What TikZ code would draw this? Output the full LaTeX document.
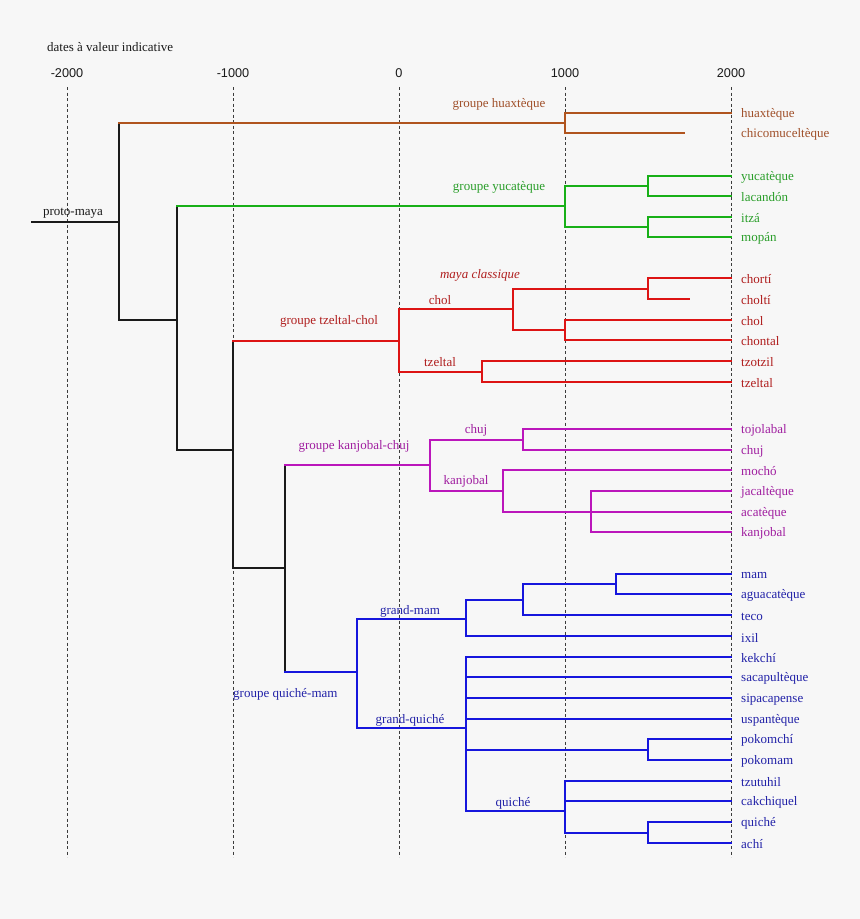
\documentclass[tikz,border=0pt]{standalone}
\usepackage{fontspec}
\setmainfont{Liberation Serif}
\newfontfamily\axisfont{Liberation Sans}
\usetikzlibrary{positioning}
\definecolor{treebg}{HTML}{F7F7F7}
\definecolor{treeink}{HTML}{1A1A1A}
\definecolor{treebrown}{HTML}{B0541E}
\definecolor{treegreen}{HTML}{18B018}
\definecolor{treered}{HTML}{DD1414}
\definecolor{treemagenta}{HTML}{BB16BB}
\definecolor{treeblue}{HTML}{1616DD}
\definecolor{txtbrown}{HTML}{A0502A}
\definecolor{txtgreen}{HTML}{2A9E2A}
\definecolor{txtred}{HTML}{B01E1E}
\definecolor{txtmagenta}{HTML}{A01EA0}
\definecolor{txtblue}{HTML}{2222A8}
\tikzset{
  branch/.style={line width=2pt, line cap=rect},
  dateline/.style={draw=treeink!85, line width=1pt, dash pattern=on 3pt off 2.5pt},
  yearlbl/.style={font=\axisfont\fontsize{12.7}{14}\selectfont, text=treeink},
  leaf/.style={anchor=west, inner sep=0pt, yshift=-1.5pt, font=\fontsize{13}{15}\selectfont},
  grplbl/.style={inner sep=0pt, font=\fontsize{13}{15}\selectfont}
}

\begin{document}
\begin{tikzpicture}[x=1pt,y=-1pt]
\fill[treebg] (0,0) rectangle (860,919);

% time axis
\node[grplbl, anchor=west, text=treeink] (axtitle) at (47,47) {dates à valeur indicative};
\foreach \yr/\x in {-2000/67,-1000/233,0/399,1000/565,2000/731} {
  \node[yearlbl] (yr\x) at (\x,73) {\yr};
  \draw[dateline] (\x,87) -- (\x,857);
}

% inner nodes of the tree
\coordinate (root) at (32,222);
\coordinate (pm) at (119,222);
\coordinate (n1) at (177,320);
\coordinate (n2) at (233,450);
\coordinate (n3) at (285,568);
\coordinate (hx) at (565,123);
\coordinate (yc) at (565,206);
\coordinate (y1) at (648,186);
\coordinate (y2) at (648,227);
\coordinate (tc) at (399,341);
\coordinate (c1) at (513,309);
\coordinate (c2) at (648,289);
\coordinate (c3) at (565,330);
\coordinate (t1) at (482,372);
\coordinate (kc) at (430,465);
\coordinate (k1) at (523,440);
\coordinate (k2) at (503,491);
\coordinate (k3) at (591,512);
\coordinate (qm) at (357,672);
\coordinate (m1) at (466,619);
\coordinate (m2) at (523,600);
\coordinate (m3) at (616,584);
\coordinate (g1) at (466,728);
\coordinate (g2) at (648,750);
\coordinate (g3) at (565,811);
\coordinate (g4) at (648,833);

% leaves
\foreach \nm/\y/\lbl in {huax/113/huaxtèque, chico/133/chicomuceltèque} {
  \coordinate (\nm) at (731,\y);
  \node[leaf, text=txtbrown] (l-\nm) at (741,\y) {\lbl};
}
\foreach \nm/\y/\lbl in {yuca/176/yucatèque, laca/196/lacandón, itza/217/itzá, mopa/237/mopán} {
  \coordinate (\nm) at (731,\y);
  \node[leaf, text=txtgreen] (l-\nm) at (741,\y) {\lbl};
}
\foreach \nm/\y/\lbl in {chorti/278/chortí, cholti/299/choltí, chol/320/chol, chon/340/chontal, tzot/361/tzotzil, tzel/382/tzeltal} {
  \coordinate (\nm) at (731,\y);
  \node[leaf, text=txtred] (l-\nm) at (741,\y) {\lbl};
}
\foreach \nm/\y/\lbl in {tojo/429/tojolabal, chuj/450/chuj, moch/470/mochó, jaca/491/jacaltèque, acat/512/acatèque, kanj/532/kanjobal} {
  \coordinate (\nm) at (731,\y);
  \node[leaf, text=txtmagenta] (l-\nm) at (741,\y) {\lbl};
}
\foreach \nm/\y/\lbl in {mam/574/mam, agua/594/aguacatèque, teco/615/teco, ixil/636/ixil, kekc/657/kekchí, saca/677/sacapultèque, sipa/698/sipacapense, uspa/719/uspantèque, pkch/739/pokomchí, pkmm/760/pokomam, tzut/781/tzutuhil, cakc/801/cakchiquel, quic/822/quiché, achi/843/achí} {
  \coordinate (\nm) at (731,\y);
  \node[leaf, text=txtblue] (l-\nm) at (741,\y) {\lbl};
}
\coordinate (chico) at (684,133);
\coordinate (cholti) at (689,299);

% black spine
\draw[branch, treeink] (root) -- (pm);
\draw[branch, treeink] (pm |- hx) |- (n1);
\draw[branch, treeink] (n1 |- yc) |- (n2);
\draw[branch, treeink] (n2 |- tc) |- (n3);
\draw[branch, treeink] (n3 |- kc) -- (n3 |- qm);
\node[grplbl, text=treeink] (proto) at (73,213) {proto-maya};

% groupe huaxteque
\draw[branch, treebrown] (pm |- hx) -- (hx);
\draw[branch, treebrown] (hx) |- (huax);
\draw[branch, treebrown] (hx) |- (chico);
\node[grplbl, text=txtbrown] (g-hx) at (499,104) {groupe huaxtèque};

% groupe yucateque
\draw[branch, treegreen] (n1 |- yc) -- (yc);
\draw[branch, treegreen] (yc) |- (y1);
\draw[branch, treegreen] (yc) |- (y2);
\draw[branch, treegreen] (y1) |- (yuca);
\draw[branch, treegreen] (y1) |- (laca);
\draw[branch, treegreen] (y2) |- (itza);
\draw[branch, treegreen] (y2) |- (mopa);
\node[grplbl, text=txtgreen] (g-yc) at (499,187) {groupe yucatèque};

% groupe tzeltal-chol
\draw[branch, treered] (n2 |- tc) -- (tc);
\draw[branch, treered] (tc) |- (c1);
\draw[branch, treered] (tc) |- (t1);
\draw[branch, treered] (c1) |- (c2);
\draw[branch, treered] (c1) |- (c3);
\draw[branch, treered] (c2) |- (chorti);
\draw[branch, treered] (c2) |- (cholti);
\draw[branch, treered] (c3) |- (chol);
\draw[branch, treered] (c3) |- (chon);
\draw[branch, treered] (t1) |- (tzot);
\draw[branch, treered] (t1) |- (tzel);
\node[grplbl, text=txtred] (g-tc) at (329,321) {groupe tzeltal-chol};
\node[grplbl, text=txtred] (g-chol) at (440,300) {chol};
\node[grplbl, text=txtred] (g-tzel) at (440,362) {tzeltal};
\node[grplbl, text=txtred, font=\fontsize{13}{15}\selectfont\itshape] (g-maya) at (480,275) {maya classique};

% groupe kanjobal-chuj
\draw[branch, treemagenta] (n3 |- kc) -- (kc);
\draw[branch, treemagenta] (kc) |- (k1);
\draw[branch, treemagenta] (kc) |- (k2);
\draw[branch, treemagenta] (k1) |- (tojo);
\draw[branch, treemagenta] (k1) |- (chuj);
\draw[branch, treemagenta] (k2) |- (moch);
\draw[branch, treemagenta] (k2) |- (acat);
\draw[branch, treemagenta] (k3) |- (jaca);
\draw[branch, treemagenta] (k3) |- (kanj);
\node[grplbl, text=txtmagenta] (g-kc) at (354,446) {groupe kanjobal-chuj};
\node[grplbl, text=txtmagenta] (g-chuj) at (476,430) {chuj};
\node[grplbl, text=txtmagenta] (g-kanj) at (466,481) {kanjobal};

% groupe quiche-mam
\draw[branch, treeblue] (n3 |- qm) -- (qm);
\draw[branch, treeblue] (qm) |- (m1);
\draw[branch, treeblue] (qm) |- (g1);
\draw[branch, treeblue] (m1) |- (m2);
\draw[branch, treeblue] (m1) |- (ixil);
\draw[branch, treeblue] (m2) |- (m3);
\draw[branch, treeblue] (m2) |- (teco);
\draw[branch, treeblue] (m3) |- (mam);
\draw[branch, treeblue] (m3) |- (agua);
\foreach \c in {kekc,saca,sipa,uspa,g2,g3}
  \draw[branch, treeblue] (g1) |- (\c);
\draw[branch, treeblue] (g2) |- (pkch);
\draw[branch, treeblue] (g2) |- (pkmm);
\draw[branch, treeblue] (g3) |- (tzut);
\draw[branch, treeblue] (g3) |- (cakc);
\draw[branch, treeblue] (g3) |- (g4);
\draw[branch, treeblue] (g4) |- (quic);
\draw[branch, treeblue] (g4) |- (achi);
\node[grplbl, anchor=west, text=txtblue] (g-qm) at (233,694) {groupe quiché-mam};
\node[grplbl, text=txtblue] (g-mam) at (410,611) {grand-mam};
\node[grplbl, text=txtblue] (g-quic) at (410,720) {grand-quiché};
\node[grplbl, text=txtblue] (g-qc) at (513,803) {quiché};
\end{tikzpicture}
\end{document}
